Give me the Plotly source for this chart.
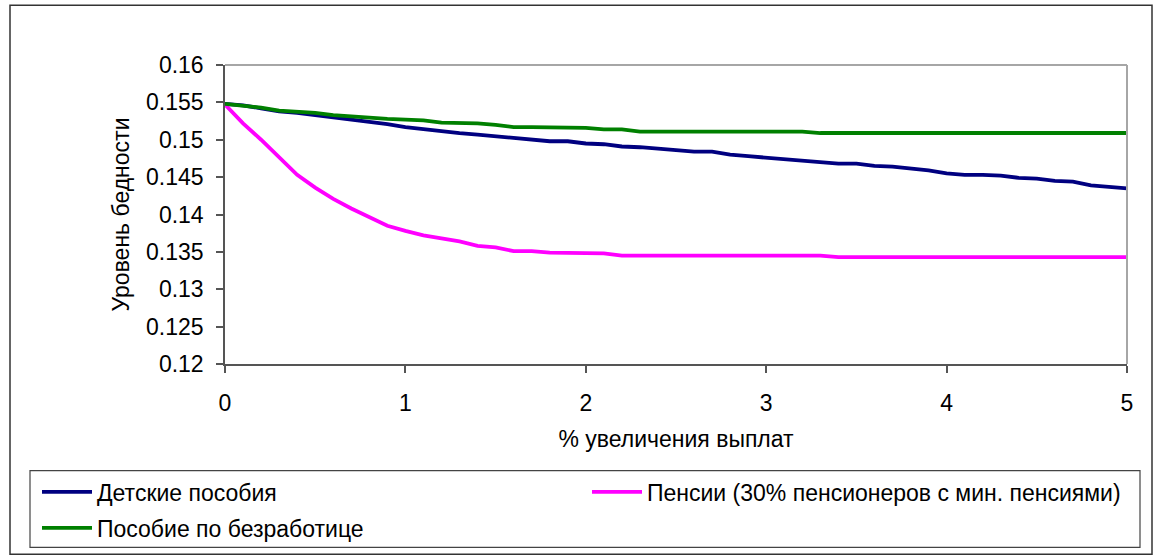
import plotly.graph_objects as go

x_vals = [round(i * 0.1, 1) for i in range(51)]

child_benefits = [
    0.1548, 0.1546, 0.1542, 0.1538, 0.1536, 0.1533, 0.1531, 0.1527, 0.1524, 0.1521,
    0.1517, 0.1514, 0.1511, 0.1509, 0.1507, 0.1505, 0.1502, 0.1500, 0.1498, 0.1498,
    0.1495, 0.1494, 0.1491, 0.1490, 0.1488, 0.1486, 0.1484, 0.1484, 0.1480, 0.1478,
    0.1476, 0.1475, 0.1472, 0.1470, 0.1468, 0.1468, 0.1465, 0.1464, 0.1462, 0.1459,
    0.1455, 0.1453, 0.1453, 0.1452, 0.1449, 0.1448, 0.1445, 0.1444, 0.1439, 0.1437,
    0.1435,
]

pensions = [
    0.1547, 0.1522, 0.1500, 0.1476, 0.1453, 0.1436, 0.1421, 0.1408, 0.1396, 0.1385,
    0.1378, 0.1372, 0.1368, 0.1364, 0.1358, 0.1356, 0.1351, 0.1351, 0.1349, 0.1349,
    0.1348, 0.1348, 0.1345, 0.1345, 0.1345, 0.1345, 0.1345, 0.1345, 0.1345, 0.1345,
    0.1345, 0.1345, 0.1345, 0.1345, 0.1343, 0.1343, 0.1343, 0.1343, 0.1343, 0.1343,
    0.1343, 0.1343, 0.1343, 0.1343, 0.1343, 0.1343, 0.1343, 0.1343, 0.1343, 0.1343,
    0.1343,
]

unemployment = [
    0.1548, 0.1546, 0.1543, 0.1539, 0.1538, 0.1536, 0.1533, 0.1531, 0.1530, 0.1528,
    0.1527, 0.1526, 0.1523, 0.1523, 0.1522, 0.1520, 0.1517, 0.1517, 0.1517, 0.1516,
    0.1516, 0.1514, 0.1514, 0.1511, 0.1511, 0.1511, 0.1511, 0.1511, 0.1511, 0.1511,
    0.1511, 0.1511, 0.1511, 0.1509, 0.1509, 0.1509, 0.1509, 0.1509, 0.1509, 0.1509,
    0.1509, 0.1509, 0.1509, 0.1509, 0.1509, 0.1509, 0.1509, 0.1509, 0.1509, 0.1509,
    0.1509,
]

series_names = [
    "Детские пособия",
    "Пенсии (30% пенсионеров с мин. пенсиями)",
    "Пособие по безработице",
]
series_colors = ["#000080", "#FF00FF", "#008000"]
y_ticks = [0.12, 0.125, 0.13, 0.135, 0.14, 0.145, 0.15, 0.155, 0.16]
y_tick_text = ["0.12", "0.125", "0.13", "0.135", "0.14", "0.145", "0.15", "0.155", "0.16"]
x_ticks = [0, 1, 2, 3, 4, 5]

FONT = "Arial, Liberation Sans, sans-serif"
FS = 23
W, H = 1155, 560
L, R, T, B = 225, 28, 65, 195
PW, PH = W - L - R, H - T - B

def px_x(p):
    return (p - L) / PW

def px_y(p):
    return 1 - (p - T) / PH

fig = go.Figure()
data = [child_benefits, pensions, unemployment]
legends = ["legend", "legend2", "legend3"]
for name, ys, col, lg in zip(series_names, data, series_colors, legends):
    fig.add_trace(go.Scatter(x=x_vals, y=ys, mode="lines", name=name,
                             line=dict(color=col, width=3.8), legend=lg))

leg_common = dict(bgcolor="rgba(0,0,0,0)", borderwidth=0, xanchor="left",
                  yanchor="middle", itemwidth=50,
                  font=dict(family=FONT, size=FS, color="black"))
fig.update_layout(
    width=W, height=H,
    margin=dict(l=L, r=R, t=T, b=B, pad=0),
    paper_bgcolor="white", plot_bgcolor="white",
    font=dict(family=FONT, size=FS, color="black"),
    showlegend=True,
    legend=dict(x=px_x(37), y=px_y(492), **leg_common),
    legend2=dict(x=px_x(587), y=px_y(492), **leg_common),
    legend3=dict(x=px_x(37), y=px_y(528), **leg_common),
    xaxis=dict(range=[0, 5], tickvals=x_ticks, showgrid=False, zeroline=False,
               showline=True, linecolor="#555555", linewidth=1.5,
               ticks="outside", ticklen=7, tickcolor="#555555", tickwidth=1.5,
               ticklabelstandoff=11,
               title=dict(text="% увеличения выплат", standoff=16,
                          font=dict(family=FONT, size=FS)),
               tickfont=dict(family=FONT, size=FS)),
    yaxis=dict(range=[0.12, 0.16], tickvals=y_ticks, ticktext=y_tick_text,
               showgrid=False, zeroline=False,
               showline=True, linecolor="#555555", linewidth=1.5,
               ticks="outside", ticklen=7, tickcolor="#555555", tickwidth=1.5,
               ticklabelstandoff=8,
               title=dict(text="Уровень бедности", standoff=10,
                          font=dict(family=FONT, size=FS)),
               tickfont=dict(family=FONT, size=FS)),
)

# plot area top / right border (light gray)
fig.add_shape(type="line", xref="paper", yref="paper", x0=0, x1=1, y0=1, y1=1,
              line=dict(color="#A6A6A6", width=2))
fig.add_shape(type="line", xref="paper", yref="paper", x0=1, x1=1, y0=0, y1=1,
              line=dict(color="#A6A6A6", width=2))
# legend box
fig.add_shape(type="rect", xref="paper", yref="paper",
              x0=px_x(30), x1=px_x(1140), y0=px_y(472), y1=px_y(549),
              line=dict(color="#444444", width=1.2), layer="below")
# outer chart border
fig.add_shape(type="rect", xref="paper", yref="paper",
              x0=px_x(10), x1=px_x(1152), y0=px_y(5), y1=px_y(556),
              line=dict(color="#333333", width=1.5), layer="below")

fig.write_html("out.html", config={"displayModeBar": False},
               post_script="document.body.style.margin='0px';document.body.style.padding='0px';")
